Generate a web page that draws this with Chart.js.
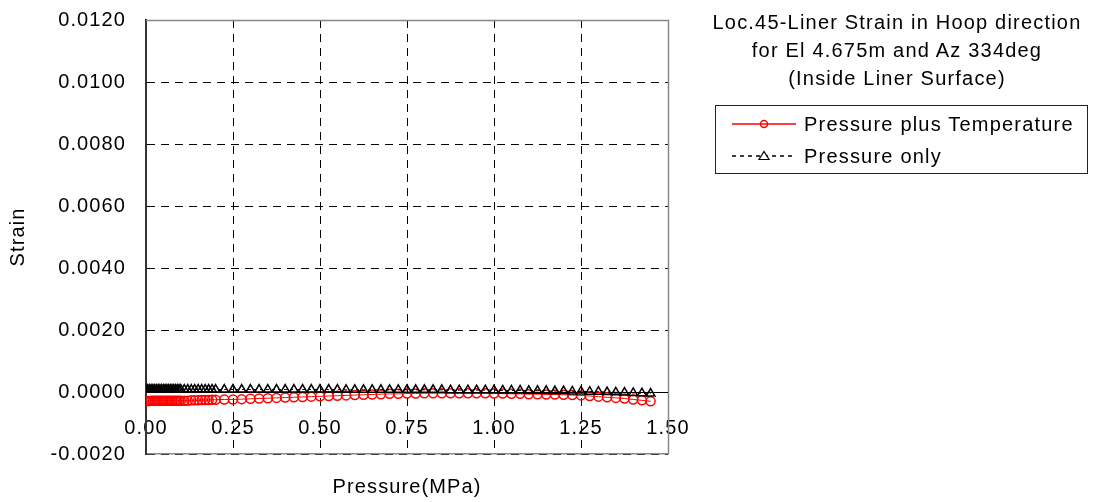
<!DOCTYPE html>
<html>
<head>
<meta charset="utf-8">
<script src="https://cdn.jsdelivr.net/npm/chart.js@4"></script>
<style>
  body { margin: 0; background: #fff; font-family: "Liberation Sans", Arial, sans-serif; }
  #wrap { position: relative; width: 1096px; height: 502px; }
  #chart { position: absolute; left: 0; top: 0; }
  #title { position: absolute; left: 697px; top: 8px; width: 400px; text-align: center;
           font-size: 20px; line-height: 28px; letter-spacing: 1.2px; color: #000; }
  #legend { position: absolute; left: 715px; top: 105px; width: 371px; height: 67px;
            border: 1px solid #222; font-size: 20px; letter-spacing: 1.2px; color: #000; }
  .row { position: absolute; left: 0; height: 24px; width: 100%; }
  .row svg { position: absolute; left: 16px; top: 0; }
  .row span { position: absolute; left: 88px; top: 0; line-height: 24px; white-space: nowrap; }
</style>
</head>
<body>
<div id="wrap">
  <canvas id="chart" width="1096" height="502"></canvas>
  <div id="title">Loc.45-Liner Strain in Hoop direction<br>for El 4.675m and Az 334deg<br>(Inside Liner Surface)</div>
  <div id="legend">
    <div class="row" style="top:6px">
      <svg width="66" height="24"><line x1="0" y1="12" x2="64" y2="12" stroke="#ff0000" stroke-width="1.5"/><circle cx="32" cy="12" r="3.5" fill="none" stroke="#ff0000" stroke-width="1.5"/></svg>
      <span>Pressure plus Temperature</span>
    </div>
    <div class="row" style="top:38px">
      <svg width="66" height="24"><line x1="0" y1="12" x2="64" y2="12" stroke="#000" stroke-width="1.5" stroke-dasharray="4,4"/><polygon points="32,7.5 27,15.5 37,15.5" fill="#fff" stroke="#000" stroke-width="1.2"/></svg>
      <span>Pressure only</span>
    </div>
  </div>
</div>
<script>
// pressure steps (MPa)
var pressure = [
    0, 0.005, 0.01, 0.015, 0.02, 0.025, 0.03, 0.035, 0.04, 0.045, 0.05,
    0.055, 0.06, 0.065, 0.07, 0.075, 0.08, 0.085, 0.09, 0.095, 0.1,
    0.11, 0.12, 0.13, 0.14, 0.15, 0.16, 0.17, 0.18, 0.19, 0.2,
    0.225, 0.25, 0.275, 0.3, 0.325, 0.35, 0.375, 0.4, 0.425, 0.45, 0.475, 0.5,
    0.525, 0.55, 0.575, 0.6, 0.625, 0.65, 0.675, 0.7, 0.725, 0.75,
    0.775, 0.8, 0.825, 0.85, 0.875, 0.9, 0.925, 0.95, 0.975, 1.0,
    1.025, 1.05, 1.075, 1.1, 1.125, 1.15, 1.175, 1.2, 1.225, 1.25,
    1.275, 1.3, 1.325, 1.35, 1.375, 1.4, 1.425, 1.45
];
var strainPT = [
    -0.00029, -0.00029, -0.00029, -0.00028, -0.00028, -0.00028, -0.00028, -0.00028, -0.00028, -0.00028, -0.00028,
    -0.00028, -0.00028, -0.00028, -0.00028, -0.00028, -0.00028, -0.00028, -0.00028, -0.00028, -0.00028,
    -0.00028, -0.00028, -0.00027, -0.00027, -0.00027, -0.00026, -0.00026, -0.00026, -0.00025, -0.00025,
    -0.00024, -0.00024, -0.00023, -0.00022, -0.00021, -0.0002, -0.00019, -0.00018, -0.00017, -0.00016, -0.00015, -0.00014,
    -0.00013, -0.00012, -0.00011, -0.0001, -0.00009, -0.00008, -0.00007, -0.00006, -0.00006, -0.00005,
    -0.00005, -0.00004, -0.00004, -0.00004, -0.00004, -0.00004, -0.00004, -0.00004, -0.00004, -0.00005,
    -0.00005, -0.00006, -0.00006, -0.00007, -0.00007, -0.00008, -0.00008, -0.00009, -0.0001, -0.00011,
    -0.00013, -0.00015, -0.00017, -0.00019, -0.00021, -0.00024, -0.00027, -0.0003
];
var strainP = [
    0.00008, 0.00008, 0.00008, 0.00008, 0.00008, 0.00008, 0.00008, 0.00008, 0.00008, 0.00008, 0.00008,
    0.00008, 0.00008, 0.00008, 0.00008, 0.00008, 0.00008, 0.00008, 0.00008, 0.00008, 0.00008,
    0.00008, 0.00008, 0.00008, 0.00008, 0.00008, 0.00008, 0.00008, 0.00008, 0.00008, 0.00008,
    0.00008, 0.00008, 0.00008, 0.00008, 0.00008, 0.00008, 0.00008, 0.00008, 0.00008, 0.00008, 0.00008, 0.00008,
    0.00008, 0.00008, 0.00007, 0.00007, 0.00007, 0.00007, 0.00007, 0.00007, 0.00007, 0.00007,
    0.00007, 0.00007, 0.00007, 0.00007, 0.00006, 0.00006, 0.00006, 0.00006, 0.00006, 0.00006,
    0.00005, 0.00005, 0.00005, 0.00004, 0.00004, 0.00004, 0.00003, 0.00003, 0.00002, 0.00002,
    0.00001, 0.00001, 0, -0.00001, -0.00002, -0.00003, -0.00004, -0.00005
];
var xTicks = { min: 0, max: 1.5, step: 0.25 };
var yTicks = { min: -0.002, max: 0.012, step: 0.002 };

function toPoints(xs, ys) {
    var pts = [];
    for (var i = 0; i < xs.length; i++) pts.push({ x: xs[i], y: ys[i] });
    return pts;
}

var fontFamily = '"Liberation Sans", Arial, sans-serif';

var frame = {
    id: 'frame',
    beforeLayout: function(chart) { chart.ctx.letterSpacing = '1.1px'; },
    beforeDraw: function(chart) { chart.ctx.letterSpacing = '1.1px'; },
    beforeDatasetsDraw: function(chart) {
        var ctx = chart.ctx, a = chart.chartArea;
        var y0 = chart.scales.y.getPixelForValue(0);
        ctx.save();
        ctx.strokeStyle = '#888';
        ctx.lineWidth = 1.5;
        ctx.beginPath();
        ctx.moveTo(a.left, a.top + 0.5);
        ctx.lineTo(a.right + 0.5, a.top + 0.5);
        ctx.lineTo(a.right + 0.5, a.bottom);
        ctx.stroke();
        ctx.strokeStyle = '#000';
        ctx.lineWidth = 1;
        ctx.beginPath();
        ctx.moveTo(a.left, Math.round(y0) + 0.5);
        ctx.lineTo(a.right, Math.round(y0) + 0.5);
        ctx.stroke();
        ctx.restore();
    }
};

var chartOptions = {
    type: 'line',
    data: {
        datasets: [{
            label: 'Pressure plus Temperature',
            data: toPoints(pressure, strainPT),
            borderColor: '#ff0000',
            borderWidth: 1,
            pointStyle: 'circle',
            pointRadius: 4.5,
            pointBorderWidth: 1.5,
            pointBorderColor: '#ff0000',
            pointBackgroundColor: 'rgba(0,0,0,0)',
            order: 1
        }, {
            label: 'Pressure only',
            data: toPoints(pressure, strainP),
            borderColor: '#000',
            borderWidth: 1,
            borderDash: [3, 3],
            pointStyle: 'triangle',
            pointRadius: 5,
            pointBorderWidth: 1.5,
            pointBorderColor: '#000',
            pointBackgroundColor: 'rgba(0,0,0,0)',
            order: 0
        }]
    },
    options: {
        responsive: false,
        animation: false,
        layout: { padding: { left: 0, top: 20, right: 428, bottom: 0 } },
        plugins: { legend: { display: false }, tooltip: { enabled: false } },
        scales: {
            x: {
                type: 'linear',
                min: xTicks.min,
                max: xTicks.max,
                afterFit: function(scale) { scale.height = 48; },
                ticks: {
                    stepSize: xTicks.step,
                    mirror: true,
                    padding: 14,
                    color: '#000',
                    font: { family: fontFamily, size: 20 },
                    callback: function(v) { return v.toFixed(2); }
                },
                grid: { color: '#000', lineWidth: 1, drawTicks: false },
                border: { display: true, color: '#888', width: 1.5, dash: [8, 6] },
                title: {
                    display: true,
                    text: 'Pressure(MPa)',
                    color: '#000',
                    font: { family: fontFamily, size: 20 },
                    padding: { top: 0, bottom: 3 }
                }
            },
            y: {
                min: yTicks.min,
                max: yTicks.max,
                afterFit: function(scale) {
                    scale.width = 146;
                    scale.paddingTop = 0;
                    scale.paddingBottom = 0;
                },
                ticks: {
                    stepSize: yTicks.step,
                    padding: 20,
                    color: '#000',
                    font: { family: fontFamily, size: 20 },
                    callback: function(v) { return v.toFixed(4); }
                },
                grid: { color: '#000', lineWidth: 1, drawTicks: false },
                border: { display: true, color: '#333', width: 2, dash: [8, 6] },
                title: {
                    display: true,
                    text: 'Strain',
                    color: '#000',
                    font: { family: fontFamily, size: 20 },
                    padding: { top: 6, bottom: 0 }
                }
            }
        }
    },
    plugins: [frame]
};

var canvas = document.getElementById('chart');
var chart = new Chart(canvas, chartOptions);
</script>
</body>
</html>
